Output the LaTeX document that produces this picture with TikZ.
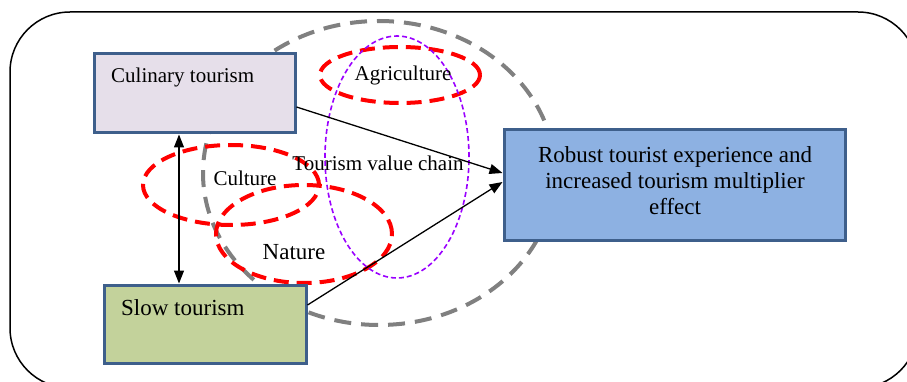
\documentclass[tikz,border=0pt]{standalone}
\usepackage{fontspec}
\setmainfont{Liberation Serif}
\usetikzlibrary{shapes.geometric,arrows.meta}
\definecolor{boxedge}{HTML}{3E5F8B}
\definecolor{culinaryfill}{HTML}{E6DFEA}
\definecolor{slowfill}{HTML}{C3D29B}
\definecolor{robustfill}{HTML}{8DB1E2}
\definecolor{ringgray}{HTML}{808080}
\definecolor{chainviolet}{HTML}{9A00FF}
\tikzset{
  frame/.style={draw=black, line width=1.5pt, rounded corners=60pt},
  stagebox/.style={draw=boxedge, line width=3pt, inner sep=0pt},
  ring/.style={ellipse, draw=ringgray, line width=4pt, dash pattern=on 17pt off 10pt, inner sep=0pt},
  theme/.style={ellipse, draw=red, line width=4pt, dash pattern=on 15pt off 8pt, inner sep=0pt},
  chain/.style={ellipse, draw=chainviolet, line width=1.6pt, dash pattern=on 5pt off 3pt, inner sep=0pt},
  tip/.style={Triangle[length=13pt,width=10pt]},
  conn/.style={draw=black, line width=1.3pt, -{Triangle[length=13pt,width=10pt]}},
  link/.style={draw=black, line width=1.3pt, {Triangle[length=13pt,width=10pt]}-{Triangle[length=13pt,width=10pt]}},
  lbl/.style={inner sep=0pt, font=\fontsize{21}{25}\selectfont},
  biglbl/.style={inner sep=0pt, font=\fontsize{23}{26}\selectfont},
}
\begin{document}
\begin{tikzpicture}[x=1pt,y=-1pt]
\useasboundingbox (0,0) rectangle (907,382);
\clip (0,0) rectangle (907,382);
\fill[white] (0,0) rectangle (907,382);

% outer frame
\draw[frame] (10,12) rectangle (918,388);

% surrounding value-chain ring
\node[ring, minimum width=352pt, minimum height=304pt] (ringall) at (379,173) {};

% themes
\node[theme, minimum width=160pt, minimum height=56pt] (agri) at (400,75) {};
\node[theme, minimum width=176pt, minimum height=80pt] (cult) at (231,185) {};
\node[theme, minimum width=176pt, minimum height=98pt] (natu) at (304,234) {};

% tourism value chain
\node[chain, minimum width=144pt, minimum height=242pt] (chainring) at (397,157) {};

% boxes
\node[stagebox, fill=culinaryfill, minimum width=201pt, minimum height=79pt] (culinary) at (194.5,93.5) {};
\node[stagebox, fill=slowfill, minimum width=202pt, minimum height=78pt] (slow) at (205,324) {};
\node[stagebox, fill=robustfill, minimum width=341pt, minimum height=110pt] (robust) at (674.5,185) {};

% box texts
\node[lbl, anchor=west] (culinarytxt) at (111,77) {Culinary tourism};
\node[biglbl, anchor=west] (slowtxt) at (121,308) {Slow tourism};
\node[biglbl, align=center] (robusttxt) at (675,181) {Robust tourist experience and\\increased tourism multiplier\\effect};

% theme texts
\node[lbl] (agritxt) at (403,75) {Agriculture};
\node[lbl] (culttxt) at (245,178) {Culture};
\node[biglbl] (natutxt) at (294,252) {Nature};
\node[lbl] (chaintxt) at (378,163) {Tourism value chain};

% connectors
\draw[conn] ([yshift=-13.5pt]culinary.east) -- ([yshift=12pt]robust.west);
\draw[conn] ([yshift=19pt]slow.east) -- ([yshift=3pt]robust.west);
\draw[link] ([xshift=-15.5pt]culinary.south) -- ([xshift=-15.5pt]culinary.south |- slow.north);
\end{tikzpicture}
\end{document}
